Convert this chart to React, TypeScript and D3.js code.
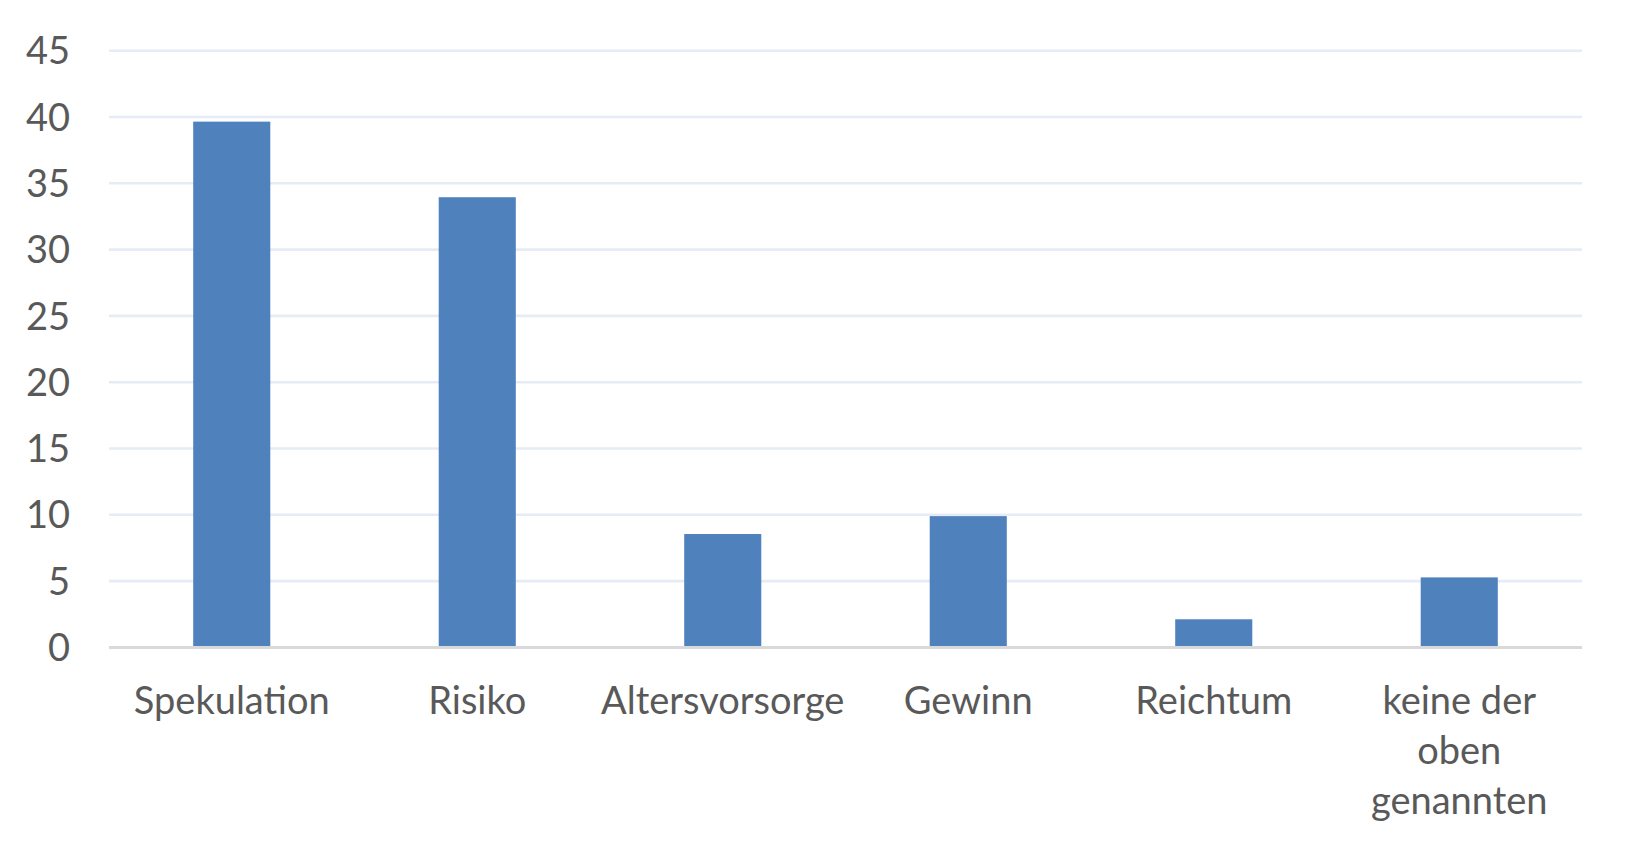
import * as React from 'react';
import * as d3 from 'd3';

const categories: string[] = ['Spekulation', 'Risiko', 'Altersvorsorge', 'Gewinn', 'Reichtum', 'keine der oben genannten'];
const values: number[] = [39.65, 33.95, 8.55, 9.9, 2.12, 5.28];
const yTicks: number[] = [0, 5, 10, 15, 20, 25, 30, 35, 40, 45];

const W = 1632;
const H = 855;
const margin = { left: 109, right: 50, top: 50.7, bottom: 207.6 };
const FONT = 'Lato, "Open Sans", sans-serif';

export default function App() {
  const ref = React.useRef<SVGSVGElement>(null);

  React.useEffect(() => {
    document.body.style.margin = '0';
    const svg = d3.select(ref.current);
    svg.selectAll('*').remove();

    const x = d3.scaleBand()
      .domain(categories)
      .range([margin.left, W - margin.right])
      .paddingInner(0.686)
      .paddingOuter(0.343);
    const y = d3.scaleLinear()
      .domain([0, 45])
      .range([H - margin.bottom, margin.top]);

    // gridlines
    svg.append('g')
      .selectAll('line')
      .data(yTicks.filter(t => t > 0))
      .join('line')
      .attr('x1', margin.left)
      .attr('x2', W - margin.right)
      .attr('y1', d => y(d))
      .attr('y2', d => y(d))
      .attr('stroke', '#E6ECF5')
      .attr('stroke-width', 2.6);

    // y tick labels
    svg.append('g')
      .selectAll('text')
      .data(yTicks)
      .join('text')
      .attr('x', 70)
      .attr('y', d => y(d))
      .attr('dy', '0.36em')
      .attr('text-anchor', 'end')
      .attr('font-family', FONT)
      .attr('font-size', 38)
      .attr('fill', '#595959')
      .text(d => d);

    // bars
    svg.append('g')
      .selectAll('rect')
      .data(values)
      .join('rect')
      .attr('x', (d, i) => x(categories[i])!)
      .attr('width', x.bandwidth())
      .attr('y', d => y(d))
      .attr('height', d => y(0) - y(d))
      .attr('fill', '#4F81BD');

    // axis line
    svg.append('line')
      .attr('x1', margin.left)
      .attr('x2', W - margin.right)
      .attr('y1', y(0))
      .attr('y2', y(0))
      .attr('stroke', '#D9D9D9')
      .attr('stroke-width', 3);

    // category labels, wrapped
    const wrapWidth = x.step() * 0.9;
    const labels = svg.append('g')
      .selectAll('text')
      .data(categories)
      .join('text')
      .attr('x', d => x(d)! + x.bandwidth() / 2)
      .attr('y', 714)
      .attr('text-anchor', 'middle')
      .attr('font-family', FONT)
      .attr('font-size', 38)
      .attr('fill', '#595959');

    labels.each(function (d) {
      const text = d3.select(this);
      const cx = +text.attr('x');
      const words = d.split(' ');
      let line: string[] = [];
      let lineNo = 0;
      let tspan = text.append('tspan').attr('x', cx).attr('y', 714);
      for (const w of words) {
        line.push(w);
        tspan.text(line.join(' '));
        if (line.length > 1 && (tspan.node() as SVGTSpanElement).getComputedTextLength() > wrapWidth) {
          line.pop();
          tspan.text(line.join(' '));
          line = [w];
          lineNo++;
          tspan = text.append('tspan').attr('x', cx).attr('y', 714 + lineNo * 50).text(w);
        }
      }
    });
  }, []);

  return <svg ref={ref} width={W} height={H} style={{ display: 'block', background: '#fff' }} />;
}
